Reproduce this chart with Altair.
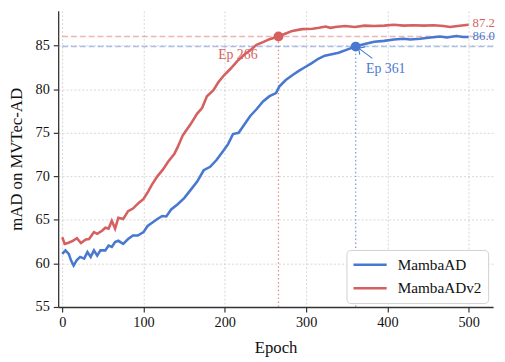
import altair as alt
import pandas as pd

# ---------------- data ----------------
series_names = ["MambaAD", "MambaADv2"]
series_colors = ["#4878d0", "#d65f5f"]

blue_epoch = [0, 4, 8, 11, 14, 18, 22, 27, 31, 35, 39, 43, 47, 53, 57, 61, 65, 69, 75, 81,
              87, 93, 100, 105, 111, 117, 123, 128, 134, 142, 150, 158, 166, 174, 182, 190,
              198, 204, 210, 217, 223, 231, 239, 247, 255, 263, 267, 275, 283, 291, 299,
              307, 315, 323, 333, 340, 352, 361, 372, 384, 396, 408, 420, 428, 440, 453,
              465, 473, 485, 493, 500]
blue_map = [61.1, 61.5, 61.1, 60.3, 59.75, 60.4, 60.75, 60.55, 61.3, 60.75, 61.5, 60.9, 61.5,
            61.5, 62.05, 61.9, 62.45, 62.6, 62.25, 62.8, 63.2, 63.2, 63.6, 64.3, 64.7, 65.1,
            65.45, 65.4, 66.2, 66.8, 67.5, 68.45, 69.4, 70.7, 71.1, 71.9, 72.9, 73.7, 74.85,
            75.0, 75.8, 76.9, 77.7, 78.6, 79.2, 79.55, 80.3, 81.05, 81.6, 82.1, 82.55, 83.0,
            83.5, 83.85, 84.05, 84.2, 84.6, 84.9, 85.2, 85.45, 85.55, 85.7, 85.8, 85.7, 85.8,
            85.95, 86.05, 85.95, 86.1, 86.0, 86.0]

red_epoch = [0, 3, 7, 13, 18, 23, 29, 33, 39, 43, 49, 53, 57, 61, 65, 69, 75, 81, 87, 94,
             100, 106, 110, 117, 124, 130, 138, 142, 148, 152, 158, 166, 172, 178, 186, 192,
             199, 207, 215, 223, 231, 239, 247, 255, 266, 275, 283, 295, 308, 316, 324, 330,
             336, 348, 360, 372, 384, 396, 408, 420, 432, 445, 457, 469, 477, 489, 500]
red_map = [63.0, 62.25, 62.35, 62.6, 62.9, 62.35, 62.75, 62.8, 63.6, 63.4, 63.75, 64.1, 64.0,
           64.9, 64.0, 65.25, 65.1, 66.0, 66.3, 66.95, 67.4, 68.3, 69.0, 70.0, 70.8, 71.65,
           72.6, 73.35, 74.65, 75.2, 76.0, 77.2, 77.85, 79.2, 79.9, 80.8, 81.6, 82.35, 83.2,
           83.9, 84.45, 85.1, 85.4, 85.75, 86.05, 86.4, 86.7, 86.9, 86.95, 87.05, 87.2, 87.05,
           87.15, 87.25, 87.15, 87.3, 87.25, 87.3, 87.4, 87.3, 87.35, 87.3, 87.35, 87.25,
           87.15, 87.3, 87.4]

# reference markers (epoch where the target level is reached)
marker_epoch = [361, 266]
marker_value = [84.9, 86.05]
marker_label = ["Ep 361", "Ep 266"]
label_epoch = [398, 216]
label_value = [82.35, 83.95]

# end-of-curve labels
end_label = ["86.0", "87.2"]
end_value = [86.1, 87.55]

# arrow for the MambaAD marker label
arrow_from = [381.5, 83.55]
arrow_to = [364.5, 84.72]

x_ticks = [0, 100, 200, 300, 400, 500]
y_ticks = [55, 60, 65, 70, 75, 80, 85]
x_domain = [-5, 530]
y_domain = [55, 89]

FONT = "Liberation Serif, Times New Roman, Times, serif"

# ---------------- tables ----------------
lines_df = pd.concat([
    pd.DataFrame({"epoch": blue_epoch, "mAD": blue_map, "model": series_names[0]}),
    pd.DataFrame({"epoch": red_epoch, "mAD": red_map, "model": series_names[1]}),
])
mk_df = pd.DataFrame({
    "epoch": marker_epoch, "mAD": marker_value, "base": [y_domain[0]] * 2,
    "hex": series_colors, "label": marker_label,
    "lx": label_epoch, "ly": label_value,
    "end": end_label, "endv": end_value, "endx": [x_ticks[-1]] * 2,
})
arrow_df = pd.DataFrame({"x": [arrow_from[0]], "y": [arrow_from[1]],
                         "x2": [arrow_to[0]], "y2": [arrow_to[1]]})

xs = alt.Scale(domain=x_domain, nice=False, zero=False)
ys = alt.Scale(domain=y_domain, nice=False, zero=False)

x_axis = alt.Axis(values=x_ticks, title="Epoch", grid=True)
y_axis = alt.Axis(values=y_ticks, title="mAD on MVTec-AD", grid=True)

base = alt.Chart(mk_df)

hlines = base.mark_rule(strokeDash=[6, 3], strokeWidth=1.4, opacity=0.45).encode(
    y=alt.Y("mAD:Q", scale=ys, axis=y_axis),
    stroke=alt.Stroke("hex:N", scale=None),
)
vlines = base.mark_rule(strokeDash=[1.5, 2.5], strokeWidth=1.3, opacity=0.7).encode(
    x=alt.X("epoch:Q", scale=xs, axis=x_axis),
    y=alt.Y("base:Q", scale=ys),
    y2="mAD:Q",
    stroke=alt.Stroke("hex:N", scale=None),
)

lines = alt.Chart(lines_df).mark_line(strokeWidth=2.6, interpolate="linear").encode(
    x=alt.X("epoch:Q", scale=xs, axis=x_axis),
    y=alt.Y("mAD:Q", scale=ys, axis=y_axis),
    color=alt.Color(
        "model:N",
        scale=alt.Scale(domain=series_names, range=series_colors),
        legend=alt.Legend(
            title=None, orient="none", legendX=293, legendY=243,
            symbolType="M-2.25,0L2.25,0", symbolSize=225, symbolStrokeWidth=2.6,
            symbolOffset=9, labelOffset=19,
            labelFont=FONT, labelFontSize=15.5, labelColor="#111",
            padding=6, rowPadding=6,
            strokeColor="#d0d0d0", fillColor="white", cornerRadius=4,
        ),
    ),
    detail="model:N",
)

points = base.mark_point(filled=True, size=100, opacity=1).encode(
    x=alt.X("epoch:Q", scale=xs),
    y=alt.Y("mAD:Q", scale=ys),
    fill=alt.Fill("hex:N", scale=None),
)

ep_text = base.mark_text(font=FONT, fontSize=14, align="center", baseline="middle").encode(
    x=alt.X("lx:Q", scale=xs),
    y=alt.Y("ly:Q", scale=ys),
    text="label:N",
    fill=alt.Fill("hex:N", scale=None),
)

end_text = base.mark_text(font=FONT, fontSize=13, align="left", baseline="middle", dx=4).encode(
    x=alt.X("endx:Q", scale=xs),
    y=alt.Y("endv:Q", scale=ys),
    text="end:N",
    fill=alt.Fill("hex:N", scale=None),
)

arrow_shaft = alt.Chart(arrow_df).mark_rule(color=series_colors[0], strokeWidth=1.1).encode(
    x=alt.X("x:Q", scale=xs), y=alt.Y("y:Q", scale=ys), x2="x2:Q", y2="y2:Q",
)
arrow_head = alt.Chart(arrow_df).mark_point(
    shape="M-1,1L0,0L1,1", filled=False, size=90, angle=304,
    color=series_colors[0], strokeWidth=1.1, opacity=1,
).encode(x=alt.X("x2:Q", scale=xs), y=alt.Y("y2:Q", scale=ys))

chart = alt.layer(
    hlines, vlines, lines, points, ep_text, end_text, arrow_shaft, arrow_head
).properties(
    width=442, height=301,
    autosize=alt.AutoSizeParams(type="none"),
    padding={"left": 51, "top": 0, "right": 4, "bottom": 52},
).configure_view(stroke=None).configure_axis(
    labelFont=FONT, labelFontSize=14.5, labelColor="#111",
    titleFont=FONT, titleFontSize=17, titleFontWeight="normal", titleColor="#111",
    domainColor="#333", domainWidth=1.3, tickColor="#333", tickWidth=1.2, tickSize=5,
    labelPadding=4, gridColor="#cccccc", gridDash=[2, 2], gridWidth=0.8,
).configure_axisX(titlePadding=11).configure_axisY(titlePadding=10)

chart.save("out.html", embed_options={"renderer": "svg", "actions": False})
